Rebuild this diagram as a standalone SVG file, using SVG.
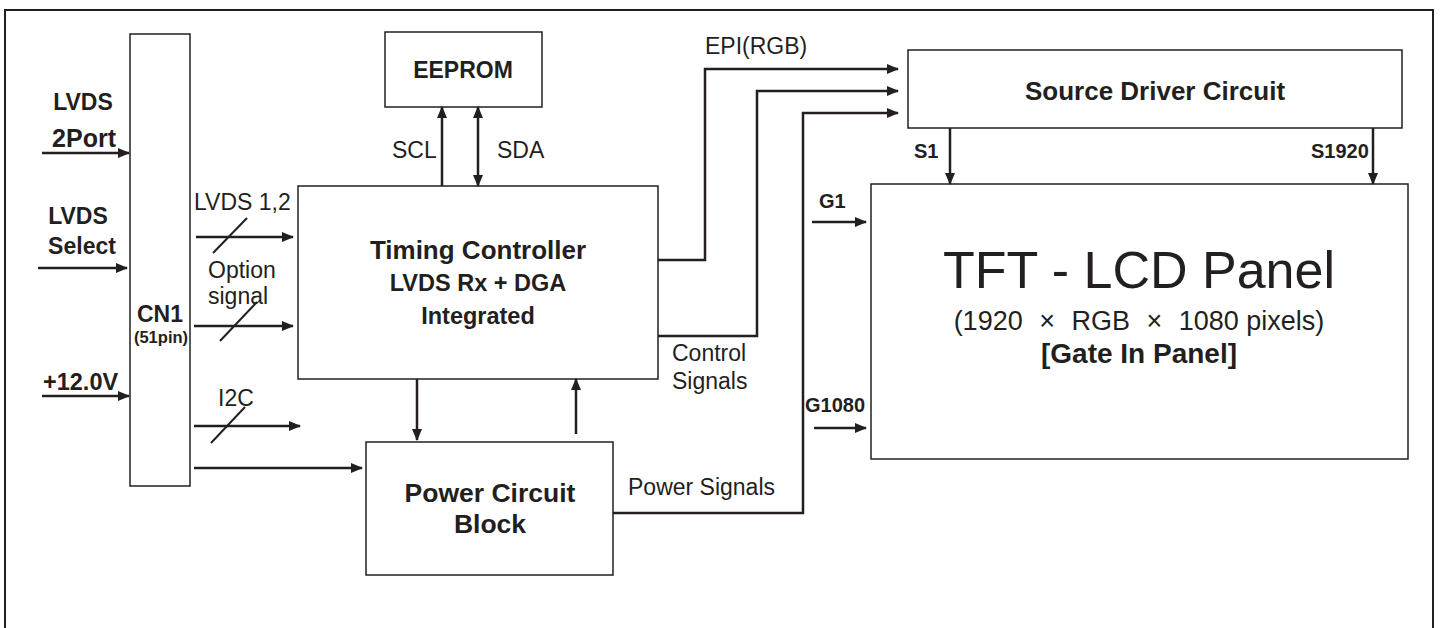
<svg xmlns="http://www.w3.org/2000/svg" width="1440" height="628" viewBox="0 0 1440 628">
<style>
.box{fill:#fff;stroke:#231f20;stroke-width:1.5}
.w{fill:none;stroke:#231f20;stroke-width:2.5}
.sl{fill:none;stroke:#231f20;stroke-width:2}
.b{font-family:"Liberation Sans",Arial,sans-serif;font-weight:bold;fill:#231f20}
.r{font-family:"Liberation Sans",Arial,sans-serif;fill:#231f20}
.m{text-anchor:middle}
.lbl{font-size:23px}
.pin{font-size:20px}
</style>
<defs>
<marker id="ah" viewBox="0 0 12 10" refX="11" refY="5" markerWidth="12" markerHeight="10" orient="auto-start-reverse" markerUnits="userSpaceOnUse"><path d="M0,0 L12,5 L0,10 z" fill="#231f20"/></marker>
</defs>
<rect width="1440" height="628" fill="#fff"/>
<rect x="5" y="10" width="1428" height="640" fill="none" stroke="#231f20" stroke-width="2"/>

<g id="cn1">
<rect class="box" x="130" y="34" width="60" height="452"/>
<text class="b m" x="160" y="322" font-size="23">CN1</text>
<text class="b m" x="161" y="343" font-size="16.5">(51pin)</text>
</g>

<g id="eeprom">
<rect class="box" x="385" y="32" width="157" height="75"/>
<text class="b m" x="463" y="78" font-size="23">EEPROM</text>
</g>

<g id="timing-controller">
<rect class="box" x="298" y="186" width="360" height="193"/>
<text class="b m" x="478" y="259" font-size="26">Timing Controller</text>
<text class="b m" x="478" y="291" font-size="23.5">LVDS Rx + DGA</text>
<text class="b m" x="478" y="324" font-size="23.5">Integrated</text>
</g>

<g id="power-circuit">
<rect class="box" x="366" y="442" width="247" height="133"/>
<text class="b m" x="490" y="502" font-size="26.5">Power Circuit</text>
<text class="b m" x="490" y="533" font-size="26.5">Block</text>
</g>

<g id="source-driver">
<rect class="box" x="908" y="50" width="494" height="78"/>
<text class="b m" x="1155" y="100" font-size="26">Source Driver Circuit</text>
</g>

<g id="tft-panel">
<rect class="box" x="871" y="184" width="537" height="275"/>
<text class="r m" x="1139" y="288" font-size="52">TFT - LCD Panel</text>
<text class="r m" x="1139" y="330" font-size="27">(1920 <tspan dx="9">×</tspan><tspan dx="9"> RGB </tspan><tspan dx="9">×</tspan><tspan dx="9"> 1080 pixels)</tspan></text>
<text class="b m" x="1139" y="363" font-size="28">[Gate In Panel]</text>
</g>

<g id="connectors">
<line class="w" x1="42" y1="153" x2="129" y2="153" marker-end="url(#ah)"/>
<line class="w" x1="38" y1="268" x2="127" y2="268" marker-end="url(#ah)"/>
<line class="w" x1="42" y1="396" x2="129" y2="396" marker-end="url(#ah)"/>
<line class="w" x1="196" y1="237" x2="293" y2="237" marker-end="url(#ah)"/>
<line class="sl" x1="213" y1="253" x2="247" y2="218"/>
<line class="w" x1="194" y1="326" x2="293" y2="326" marker-end="url(#ah)"/>
<line class="sl" x1="220" y1="341" x2="257" y2="302"/>
<line class="w" x1="194" y1="426" x2="300" y2="426" marker-end="url(#ah)"/>
<line class="sl" x1="211" y1="443" x2="245" y2="407"/>
<line class="w" x1="194" y1="468" x2="362" y2="468" marker-end="url(#ah)"/>
<line class="w" x1="442" y1="186" x2="442" y2="107" marker-end="url(#ah)"/>
<line class="w" x1="478" y1="186" x2="478" y2="107" marker-start="url(#ah)" marker-end="url(#ah)"/>
<line class="w" x1="417" y1="379" x2="417" y2="440" marker-end="url(#ah)"/>
<line class="w" x1="576" y1="434" x2="576" y2="379" marker-end="url(#ah)"/>
<path class="w" d="M658,260 H705 V69 H898" marker-end="url(#ah)"/>
<path class="w" d="M658,336 H757 V91 H898" marker-end="url(#ah)"/>
<path class="w" d="M613,513 H803 V113 H898" marker-end="url(#ah)"/>
<line class="w" x1="950" y1="128" x2="950" y2="184" marker-end="url(#ah)"/>
<line class="w" x1="1373" y1="128" x2="1373" y2="184" marker-end="url(#ah)"/>
<line class="w" x1="812" y1="222" x2="866" y2="222" marker-end="url(#ah)"/>
<line class="w" x1="814" y1="428" x2="866" y2="428" marker-end="url(#ah)"/>
</g>

<g id="labels">
<text class="b m" x="83" y="110" font-size="23">LVDS</text>
<text class="b m" x="84" y="147" font-size="25">2Port</text>
<text class="b m" x="78" y="224" font-size="23">LVDS</text>
<text class="b m" x="82" y="254" font-size="23">Select</text>
<text class="b" x="43" y="390" font-size="23.5">+12.0V</text>
<text class="r lbl" x="194" y="210">LVDS 1,2</text>
<text class="r lbl" x="208" y="278">Option</text>
<text class="r lbl" x="208" y="304">signal</text>
<text class="r lbl" x="218" y="406">I2C</text>
<text class="r lbl" x="392" y="158">SCL</text>
<text class="r lbl" x="497" y="158">SDA</text>
<text class="r lbl" x="705" y="54">EPI(RGB)</text>
<text class="r lbl" x="672" y="361">Control</text>
<text class="r lbl" x="672" y="389">Signals</text>
<text class="r lbl" x="628" y="495">Power Signals</text>
<text class="b pin" x="914" y="158">S1</text>
<text class="b pin" x="1311" y="158">S1920</text>
<text class="b pin" x="819" y="208">G1</text>
<text class="b pin" x="805" y="412">G1080</text>
</g>
</svg>
